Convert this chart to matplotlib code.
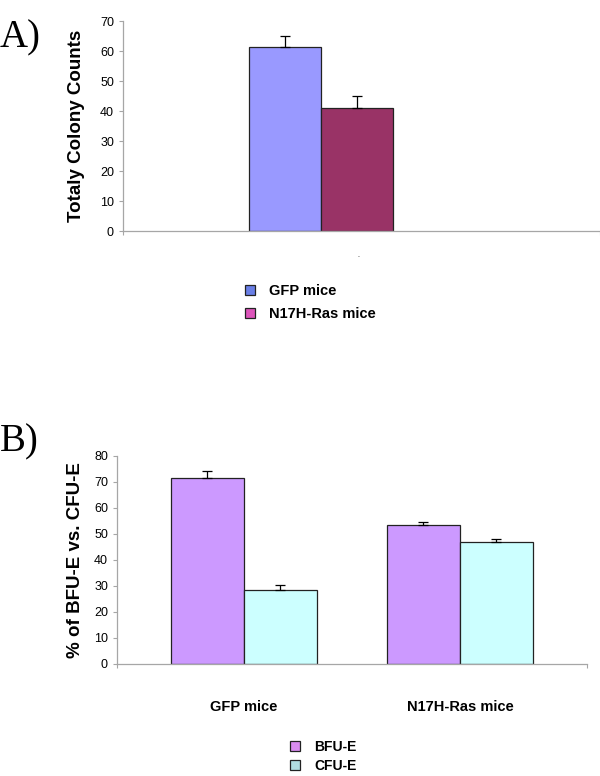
import matplotlib
matplotlib.use("Agg")
import matplotlib.pyplot as plt
from matplotlib.patches import Patch

plt.rcParams['font.family'] = ['Liberation Sans', 'DejaVu Sans']

# panel A data
colony_groups = ['GFP mice', 'N17H-Ras mice']
colony_counts = [61.5, 41.0]
colony_err = [3.6, 4.0]
colony_bar_colors = ['#9999ff', '#993366']
colony_legend_colors = ['#6a7fe6', '#dd55bb']

# panel B data
mice_groups = ['GFP mice', 'N17H-Ras mice']
bfu_pct = [71.5, 53.4]
bfu_err = [2.8, 1.2]
cfu_pct = [28.6, 46.9]
cfu_err = [1.9, 1.2]
erythroid_labels = ['BFU-E', 'CFU-E']
erythroid_bar_colors = ['#cc99ff', '#ccffff']
erythroid_legend_colors = ['#d98cf0', '#b0dde0']

AXIS_GRAY = '#a6a6a6'


def style_axes(ax, ymax):
    for side in ['top', 'right']:
        ax.spines[side].set_visible(False)
    for side in ['left', 'bottom']:
        ax.spines[side].set_color(AXIS_GRAY)
        ax.spines[side].set_linewidth(0.9)
    ax.set_ylim(0, ymax)
    ax.set_yticks(range(0, ymax + 1, 10))
    ax.tick_params(axis='y', direction='out', length=3, width=0.8,
                   color=AXIS_GRAY, labelsize=9, pad=3.5)
    ax.set_facecolor('none')


fig = plt.figure(figsize=(6.0, 7.76), dpi=100)

# ---------- A) ----------
axA = fig.add_axes([0.205, 1 - 231 / 776, 0.795, 210 / 776])
w = 0.3
for i, (name, val, err, col) in enumerate(zip(colony_groups, colony_counts,
                                               colony_err, colony_bar_colors)):
    xpos = (i - 0.5) * w
    axA.bar(xpos, val, width=w, color=col, edgecolor='#222222', linewidth=0.9, zorder=2)
    axA.errorbar(xpos, val, yerr=[[0], [err]], fmt='none', ecolor='black',
                 elinewidth=0.9, capsize=3.3, capthick=0.9, zorder=3)
style_axes(axA, 70)
axA.set_xlim(-0.825, 1.1625)
axA.set_xticks([-0.825, 1.1625])
axA.set_xticklabels(['', ''])
axA.tick_params(axis='x', direction='out', length=3, width=0.8, color=AXIS_GRAY)
axA.set_ylabel('Totaly Colony Counts', fontsize=13.5, fontweight='bold', labelpad=11)
fig.text(0.0, 1 - 47 / 776, 'A)', fontsize=28, family='Liberation Serif', va='baseline')
fig.text(358 / 600, 1 - 257 / 776, '.', fontsize=5, ha='center')

handlesA = [Patch(facecolor=c, edgecolor='#222222', linewidth=0.9, label=l)
            for c, l in zip(colony_legend_colors, colony_groups)]
fig.legend(handles=handlesA, loc='upper left', bbox_to_anchor=(245 / 600, 1 - 284 / 776),
           frameon=False, prop={'weight': 'bold', 'size': 10.5},
           handlelength=0.7, handleheight=0.7, handletextpad=0.95,
           labelspacing=0.62, borderpad=0, borderaxespad=0)

# ---------- B) ----------
axB = fig.add_axes([0.195, 1 - 664 / 776, 0.7833, 208 / 776])
wb = 0.338
for j, (vals, errs, col) in enumerate([(bfu_pct, bfu_err, erythroid_bar_colors[0]),
                                       (cfu_pct, cfu_err, erythroid_bar_colors[1])]):
    xs = [k + (j - 0.5) * wb for k in range(len(mice_groups))]
    axB.bar(xs, vals, width=wb, color=col, edgecolor='#222222', linewidth=0.9, zorder=2)
    axB.errorbar(xs, vals, yerr=[[0] * len(errs), errs], fmt='none', ecolor='black',
                 elinewidth=0.9, capsize=3.3, capthick=0.9, zorder=3)
style_axes(axB, 80)
axB.set_xlim(-0.588, 1.588)
axB.set_xticks(range(len(mice_groups)))
axB.set_xticklabels(mice_groups, fontsize=10.5, fontweight='bold')
axB.tick_params(axis='x', length=0, pad=26)
axB.set_xticks([-0.588, 1.588], minor=True)
axB.tick_params(axis='x', which='minor', direction='out', length=3, width=0.8, color=AXIS_GRAY)
axB.set_ylabel('% of BFU-E vs. CFU-E', fontsize=13.5, fontweight='bold', labelpad=7)
fig.text(0.0, 1 - 451 / 776, 'B)', fontsize=28, family='Liberation Serif', va='baseline')

handlesB = [Patch(facecolor=c, edgecolor='#222222', linewidth=0.9, label=l)
            for c, l in zip(erythroid_legend_colors, erythroid_labels)]
fig.legend(handles=handlesB, loc='upper left', bbox_to_anchor=(290 / 600, 1 - 740 / 776),
           frameon=False, prop={'weight': 'bold', 'size': 10},
           handlelength=0.75, handleheight=0.75, handletextpad=1.0,
           labelspacing=0.35, borderpad=0, borderaxespad=0)

fig.savefig('out.png', dpi=100)
